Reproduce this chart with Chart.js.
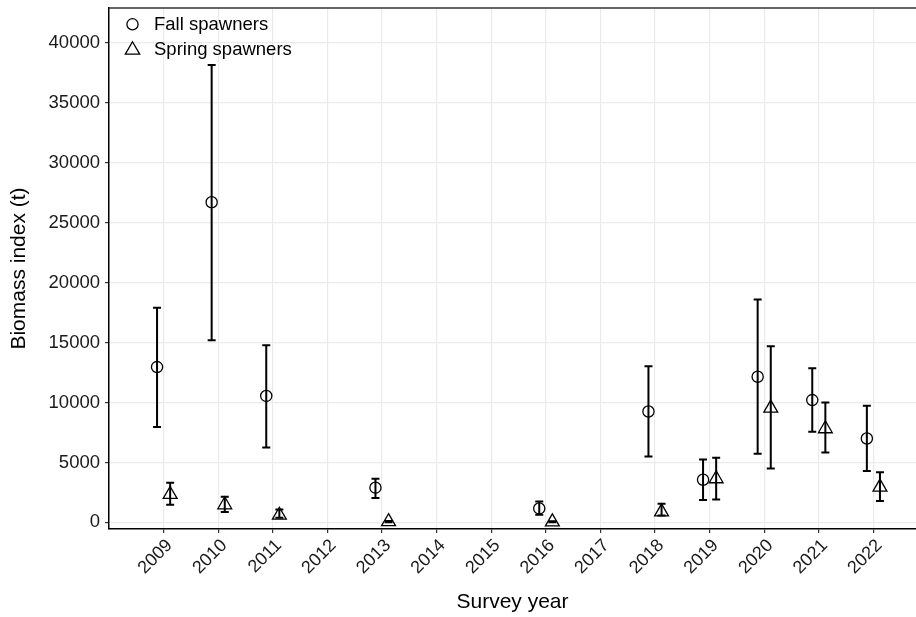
<!DOCTYPE html>
<html>
<head>
<meta charset="utf-8">
<script src="https://cdn.jsdelivr.net/npm/chart.js@4"></script>
<style>
  html, body { margin: 0; padding: 0; background: #fff; }
  #wrap { width: 916px; height: 617px; }
</style>
</head>
<body>
<div id="wrap"><canvas id="chart" width="916" height="617"></canvas></div>
<script>
// survey years that have estimates
var years = [2009, 2010, 2011, 2013, 2016, 2018, 2019, 2020, 2021, 2022];

// fall spawners: index and interval (t)
var fallMean = [12950, 26700, 10550, 2900, 1170, 9250, 3560, 12150, 10200, 7000];
var fallLow  = [7950, 15200, 6250, 2030, 640, 5500, 1860, 5720, 7560, 4280];
var fallHigh = [17900, 38150, 14780, 3640, 1750, 13030, 5250, 18600, 12860, 9720];

// spring spawners
var springMean = [2330, 1470, 600, 60, 50, 880, 3640, 9530, 7810, 2940];
var springLow  = [1470, 860, 390, 10, 10, 580, 1920, 4500, 5830, 1775];
var springHigh = [3310, 2140, 1080, 110, 100, 1560, 5390, 14700, 10000, 4190];

var xTicks = [2009, 2010, 2011, 2012, 2013, 2014, 2015, 2016, 2017, 2018, 2019, 2020, 2021, 2022];
var yTicks = [0, 5000, 10000, 15000, 20000, 25000, 30000, 35000, 40000];

var dodge = 0.12;
var fontFamily = "'Liberation Sans', Arial, Helvetica, sans-serif";

function buildPoints(mean, low, high, shift) {
  var pts = [];
  for (var i = 0; i < years.length; i++) {
    pts.push({x: years[i] + shift, y: mean[i], low: low[i], high: high[i]});
  }
  return pts;
}

// vertical error bars with caps, drawn under the symbols
var errorBars = {
  id: 'errorBars',
  beforeDatasetsDraw: function (chart) {
    var ctx = chart.ctx;
    var xs = chart.scales.x, ys = chart.scales.y;
    ctx.save();
    ctx.strokeStyle = '#000';
    ctx.lineWidth = 2;
    chart.data.datasets.forEach(function (ds) {
      ds.data.forEach(function (p) {
        var x = xs.getPixelForValue(p.x);
        var top = ys.getPixelForValue(p.high);
        var bot = ys.getPixelForValue(p.low);
        ctx.beginPath();
        ctx.moveTo(x, top); ctx.lineTo(x, bot);
        ctx.moveTo(x - 4, top); ctx.lineTo(x + 4, top);
        ctx.moveTo(x - 4, bot); ctx.lineTo(x + 4, bot);
        ctx.stroke();
      });
    });
    ctx.restore();
  }
};

// top panel border + legend inside the panel
var panelExtras = {
  id: 'panelExtras',
  afterDraw: function (chart) {
    var ctx = chart.ctx, area = chart.chartArea;
    ctx.save();
    ctx.strokeStyle = '#333';
    ctx.lineWidth = 1.5;
    ctx.beginPath();
    ctx.moveTo(area.left, area.top);
    ctx.lineTo(area.right, area.top);
    ctx.stroke();

    // legend
    var sx = 132.5;
    ctx.strokeStyle = '#000';
    ctx.lineWidth = 1.3;
    ctx.beginPath();
    ctx.arc(sx, 24.3, 5.6, 0, Math.PI * 2);
    ctx.stroke();

    var r = 8.3, cy = 50;
    ctx.beginPath();
    ctx.moveTo(sx, cy - r);
    ctx.lineTo(sx + r * Math.cos(Math.PI / 6), cy + r / 2);
    ctx.lineTo(sx - r * Math.cos(Math.PI / 6), cy + r / 2);
    ctx.closePath();
    ctx.stroke();

    ctx.fillStyle = '#000';
    ctx.font = '18.5px ' + fontFamily;
    ctx.textBaseline = 'middle';
    ctx.textAlign = 'left';
    ctx.fillText('Fall spawners', 154, 24.5);
    ctx.fillText('Spring spawners', 154, 49.5);
    ctx.restore();
  }
};

var gridOpts = {
  color: '#ebebeb',
  lineWidth: 1.2,
  tickColor: '#333',
  tickLength: 4,
  tickWidth: 1.2
};

new Chart(document.getElementById('chart'), {
  type: 'scatter',
  data: {
    datasets: [{
      label: 'Fall spawners',
      data: buildPoints(fallMean, fallLow, fallHigh, -dodge),
      pointStyle: 'circle',
      pointRadius: 5.6,
      pointHoverRadius: 5.6,
      borderColor: '#000',
      backgroundColor: 'rgba(0,0,0,0)',
      borderWidth: 1.3
    }, {
      label: 'Spring spawners',
      data: buildPoints(springMean, springLow, springHigh, dodge),
      pointStyle: 'triangle',
      pointRadius: 8,
      pointHoverRadius: 8,
      borderColor: '#000',
      backgroundColor: 'rgba(0,0,0,0)',
      borderWidth: 1.3
    }]
  },
  options: {
    responsive: false,
    animation: false,
    devicePixelRatio: 1,
    layout: { autoPadding: false, padding: { top: 8, right: 0, bottom: 0, left: 0 } },
    plugins: {
      legend: { display: false },
      tooltip: { enabled: false }
    },
    scales: {
      x: {
        type: 'linear',
        min: 2008,
        max: 2022.78,
        afterBuildTicks: function (s) {
          s.ticks = xTicks.map(function (v) { return {value: v}; });
        },
        afterFit: function (s) {
          s.height = 88;
          s.paddingLeft = 0;
          s.paddingRight = 0;
        },
        ticks: {
          autoSkip: false,
          minRotation: 45,
          maxRotation: 45,
          padding: 2,
          labelOffset: 6,
          color: '#1a1a1a',
          font: { family: fontFamily, size: 18 },
          callback: function (v) { return String(v); }
        },
        grid: gridOpts,
        border: { color: '#000', width: 1.5 },
        title: {
          display: true,
          text: 'Survey year',
          color: '#000',
          font: { family: fontFamily, size: 21 },
          padding: { top: 0, bottom: 2.4 }
        }
      },
      y: {
        type: 'linear',
        min: -550,
        max: 42900,
        afterBuildTicks: function (s) {
          s.ticks = yTicks.map(function (v) { return {value: v}; });
        },
        afterFit: function (s) {
          s.width = 109;
          s.paddingTop = 0;
          s.paddingBottom = 0;
        },
        ticks: {
          padding: 5,
          color: '#1a1a1a',
          font: { family: fontFamily, size: 18.5 },
          callback: function (v) { return String(v); }
        },
        grid: gridOpts,
        border: { color: '#000', width: 1.5 },
        title: {
          display: true,
          text: 'Biomass index (t)',
          color: '#000',
          font: { family: fontFamily, size: 21 },
          padding: { top: 6.6, bottom: 0 }
        }
      }
    }
  },
  plugins: [errorBars, panelExtras]
});
</script>
</body>
</html>
